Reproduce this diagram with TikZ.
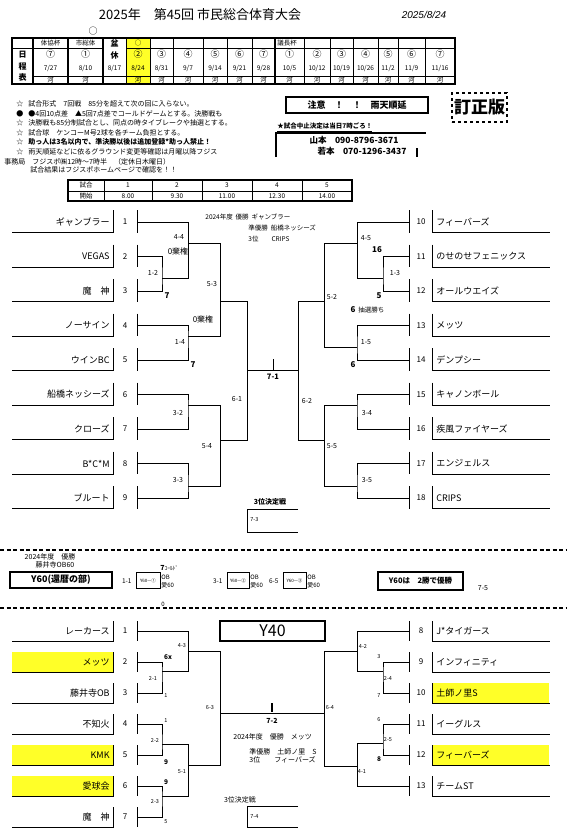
\documentclass[tikz,border=0pt]{standalone}
\usepackage{fontspec}
\setmainfont{Noto Sans CJK JP}
\newfontfamily\latinfont{Liberation Sans}
\definecolor{hl}{RGB}{255,255,40}

\begin{document}
\begin{tikzpicture}[
    x=1pt, y=-1pt, line width=0.8pt,
    frame/.style={line width=0.9pt},
    tname/.style={font=\fontsize{9}{10}\selectfont, inner sep=0pt},
    tnum/.style={font=\fontsize{8}{9}\selectfont, inner sep=0pt},
    score/.style={font=\fontsize{7}{8}\selectfont, inner sep=0pt},
    win/.style={font=\fontsize{8}{9}\selectfont\bfseries, inner sep=0pt},
    ysc/.style={font=\fontsize{5.5}{6}\selectfont, inner sep=0pt},
    note/.style={font=\fontsize{7}{8}\selectfont, inner sep=0pt, anchor=west},
    cell/.style={font=\fontsize{6.5}{7}\selectfont, inner sep=0pt},
    circ/.style={font=\fontsize{9}{10}\selectfont, inner sep=0pt},
    thickbox/.style={draw, line width=1.8pt, inner sep=0pt}
]
\useasboundingbox (0,0) rectangle (567,838);

% -------------------------
% Title
% -------------------------
\node[font=\fontsize{13}{14}\selectfont] (title) at (200,15) {2025年　第45回 市民総合体育大会};
\node[font=\latinfont\itshape\fontsize{10}{11}\selectfont] (date) at (424,15) {2025/8/24};
\node[circ] (mark) at (93,31) {○};

% -------------------------
% Schedule table
% -------------------------
\fill[hl] (126,38) rectangle (150,84);
\foreach \xa/\xb/\cn/\dt/\rv [count=\k] in {33/68/⑦/{7/27}/河, 68/103/①/{8/10}/河, 103/126/{}/{8/17}/{},
    126/150/②/{8/24}/河, 150/173/③/{8/31}/河, 173/203/④/{9/7}/河, 203/227/⑤/{9/14}/河,
    227/252/⑥/{9/21}/河, 252/275/⑦/{9/28}/河, 275/304/①/{10/5}/河, 304/330/②/{10/12}/河,
    330/353/③/{10/19}/河, 353/378/④/{10/26}/河, 378/398/⑤/{11/2}/河, 398/425/⑥/{11/9}/河,
    425/455/⑦/{11/16}/河}{
  \node[circ] (cn\k) at ({(\xa+\xb)/2},54) {\cn};
  \node[cell] (dt\k) at ({(\xa+\xb)/2},68) {\dt};
  \node[cell] (rv\k) at ({(\xa+\xb)/2},80) {\rv};
}
\node[cell] (hd1) at (50.5,43) {体協杯};
\node[cell] (hd2) at (85.5,43) {市総体};
\node[cell] (hd3) at (138,43) {○};
\node[cell, anchor=west] (hd4) at (277,43) {議長杯};
\node[win] (bon1) at (114.5,43) {盆};
\node[win] (bon2) at (114.5,55) {休};
\node[win] (sch1) at (22.5,55) {日};
\node[win] (sch2) at (22.5,66) {程};
\node[win] (sch3) at (22.5,77) {表};
\draw[line width=0.5pt] (12,48) -- (103,48) (126,48) -- (455,48) (33,76) -- (455,76);
\foreach \x in {126,150,173,203,227,252,304,330,353,378,398,425}
  \draw[line width=0.5pt] (\x,38) -- (\x,84);
\foreach \x in {33,68,103,275}
  \draw[line width=1.4pt] (\x,38) -- (\x,84);
\draw[line width=1.8pt] (12,38) rectangle (455,84);

% -------------------------
% Notes
% -------------------------
\node[note] (s1) at (16,104) {☆};
\node[note] (s2) at (16,114) {●};
\node[note] (s3) at (16,123) {☆};
\node[note] (s4) at (16,133) {☆};
\node[note] (s5) at (16,142) {☆};
\node[note] (s6) at (16,152) {☆};
\node[note] (n1) at (28,104) {試合形式　7回戦　85分を超えて次の回に入らない。};
\node[note] (n2) at (28,114) {●4回10点差　▲5回7点差でコールドゲームとする。決勝戦も};
\node[note] (n3) at (28,123) {決勝戦も85分制試合とし、同点の時タイブレークや抽選とする。};
\node[note] (n4) at (28,133) {試合球　ケンコーM号2球を各チーム負担とする。};
\node[note, font=\fontsize{7}{8}\selectfont\bfseries] (n5) at (28,142) {助っ人は3名以内で、準決勝以後は追加登録*助っ人禁止！};
\node[note] (n6) at (28,152) {雨天順延などに依るグラウンド変更等確認は月曜以降フジス};
\node[note] (n7) at (4,162) {事務局　フジスポ㈱12時～7時半　（定休日木曜日）};
\node[note] (n8) at (30,170) {試合結果はフジスポホームページで確認を！！};

\node[thickbox, minimum width=142pt, minimum height=16pt, font=\fontsize{9}{10}\selectfont\bfseries] (rain) at (357,105) {注意　！　！　雨天順延};
\node[draw, dashed, line width=1.6pt, minimum width=55pt, minimum height=29pt, inner sep=0pt,
      font=\fontsize{17}{18}\selectfont\bfseries] (rev) at (479.5,107.5) {訂正版};
\node[font=\fontsize{6.5}{7}\selectfont\bfseries, inner sep=0pt, anchor=south west] (stop) at (277,132) {\underline{★試合中止決定は当日7時ごろ！}};
\draw[line width=1.8pt] (276,157) -- (276,133) -- (426,133);
\draw[line width=1.8pt] (417,148) -- (417,157);
\node[font=\fontsize{8.5}{9}\selectfont\bfseries, inner sep=0pt] (tel1) at (354,140) {山本　090-8796-3671};
\node[font=\fontsize{8.5}{9}\selectfont\bfseries, inner sep=0pt] (tel2) at (362,151) {若本　070-1296-3437};

% -------------------------
% Start times
% -------------------------
\draw[line width=1.6pt] (68,180) rectangle (352,201);
\draw[line width=0.5pt] (68,191) -- (352,191);
\foreach \x in {104,152,202,252,302}
  \draw[line width=0.5pt] (\x,180) -- (\x,201);
\node[cell] (g0) at (86,185.5) {試合};
\node[cell] (t0) at (86,196) {開始};
\foreach \xc/\t [count=\k] in {128/8.00, 177/9.30, 227/11.00, 277/12.30, 327/14.00}{
  \node[cell] (g\k) at (\xc,185.5) {\k};
  \node[cell] (t\k) at (\xc,196) {\t};
}

% -------------------------
% Main tournament: teams
% -------------------------
\foreach \name [count=\i] in {ギャンブラー,VEGAS,魔　神,ノーサイン,ウインBC,船橋ネッシーズ,クローズ,B*C*M,ブルート}{
  \pgfmathsetmacro{\cy}{222+(\i-1)*34.5}
  \draw[frame] (113,\cy-12) -- (113,\cy+10.5) -- (12,\cy+10.5);
  \draw[frame] (137,\cy-12) -- (137,\cy+10.5);
  \node[tname, anchor=east] (tl\i) at (110,\cy) {\name};
  \node[tnum] (nl\i) at (125,\cy) {\i};
  \coordinate (a\i) at (137,\cy);
}
\foreach \name [count=\i from 10] in {フィーバーズ,のせのせフェニックス,オールウエイズ,メッツ,デンプシー,キャノンボール,疾風ファイヤーズ,エンジェルス,CRIPS}{
  \pgfmathsetmacro{\cy}{222+(\i-10)*34.5}
  \draw[frame] (432,\cy-12) -- (432,\cy+10.5) -- (550,\cy+10.5);
  \draw[frame] (409,\cy-12) -- (409,\cy+10.5);
  \node[tname, anchor=west] (tr\i) at (436,\cy) {\name};
  \node[tnum] (nr\i) at (421,\cy) {\i};
  \coordinate (b\i) at (409,\cy);
}

% -------------------------
% Main tournament: bracket
% -------------------------
\draw (a2) -| (162,278) |- (a3);
\draw (a1) -| (188,278) -- (162,278);
\draw (a4) -| (188,336) |- (a5);
\draw (188,243) -| (220,336) -- (188,336);
\draw (a6) -| (188,405) |- (a7);
\draw (a8) -| (188,486) |- (a9);
\draw (188,405) -| (220,486) -- (188,486);
\draw (220,301) -| (247,440) -- (220,440);

\draw (b11) -| (383,278) |- (b12);
\draw (b10) -| (357,278) -- (383,278);
\draw (b13) -| (357,347) |- (b14);
\draw (357,243) -| (324,347) -- (357,347);
\draw (b15) -| (357,405) |- (b16);
\draw (b17) -| (357,486) |- (b18);
\draw (357,405) -| (324,486) -- (357,486);
\draw (324,301) -| (298,440) -- (324,440);

% final
\draw (247,370) -- (298,370);
\draw (273,359) -- (273,370);
\node[score, font=\fontsize{7.5}{8}\selectfont\bfseries] (fin) at (273,377) {7-1};

% scores
\foreach \x/\y/\t [count=\k] in {179/237/4-4, 153/273/1-2, 212/284/5-3, 180/342/1-4, 178/413/3-2,
    207/446/5-4, 237/399/6-1, 178/480/3-3, 366/238/4-5, 395/273/1-3, 332/297/5-2, 366/342/1-5,
    307/401/6-2, 367/413/3-4, 332/446/5-5, 367/480/3-5}
  \node[score] (sc\k) at (\x,\y) {\t};
\node[score, font=\fontsize{8}{9}\selectfont] (fw1) at (178,251) {0棄権};
\node[score, font=\fontsize{8}{9}\selectfont] (fw2) at (203,319) {0棄権};
\foreach \x/\y/\t [count=\k] in {167/296/7, 193/365/7, 377/250/16, 379/296/5, 353/310/6, 353/365/6}
  \node[win] (w\k) at (\x,\y) {\t};
\node[ysc, font=\fontsize{6.5}{7}\selectfont, anchor=west] (lot) at (358,310) {抽選勝ち};

% last year's result
\node[score, font=\fontsize{6.5}{7}\selectfont, anchor=west] (prev1) at (205,217) {2024年度 \ 優勝 \ ギャンブラー};
\node[score, font=\fontsize{6.5}{7}\selectfont, anchor=west] (prev2) at (248,228) {準優勝 \ 船橋ネッシーズ};
\node[score, font=\fontsize{6.5}{7}\selectfont, anchor=west] (prev3) at (248,239) {3位　　CRIPS};

% third place
\node[score, font=\fontsize{7}{8}\selectfont\bfseries] (third) at (270,502) {3位決定戦};
\draw (298,509) -- (247,509) -- (247,532) -- (298,532);
\node[ysc, anchor=west] (thirdsc) at (250,520) {7-3};

% -------------------------
% Y60 section
% -------------------------
\draw[line width=1.3pt, dash pattern=on 4pt off 2.5pt] (0,550) -- (567,550);
\draw[line width=1.3pt, dash pattern=on 4pt off 2.5pt] (0,608) -- (567,608);
\node[score] (y60p1) at (50,557) {2024年度　優勝};
\node[score] (y60p2) at (55,565) {藤井寺OB60};
\node[thickbox, minimum width=102pt, minimum height=16pt, font=\fontsize{9}{10}\selectfont\bfseries] (y60) at (61,580) {Y60(還暦の部)};
\node[thickbox, minimum width=85pt, minimum height=18pt, font=\fontsize{7.5}{8}\selectfont\bfseries] (y60rule) at (420.5,581) {Y60は　2勝で優勝};
\foreach \xa/\xb/\ob/\t/\nm [count=\k] in {136/160/161/1-1/①, 227/249/250/3-1/②, 283/306/307/6-5/③}{
  \node[draw, line width=0.6pt, minimum width=\xb-\xa, minimum height=16pt, inner sep=0pt,
        font=\fontsize{4.5}{5}\selectfont] (yb\k) at ({(\xa+\xb)/2},580.5) {Y60—\nm};
  \node[ysc, font=\fontsize{6.5}{7}\selectfont, anchor=east] (ys\k) at (\xa-4,581) {\t};
  \node[ysc, font=\fontsize{6}{7}\selectfont, anchor=west] (yo\k) at (\ob,577) {OB};
  \node[ysc, font=\fontsize{6}{7}\selectfont, anchor=west] (ya\k) at (\ob,585) {愛60};
}
\node[ysc, anchor=west] (cold) at (160,568) {{\fontsize{7}{8}\selectfont\bfseries 7}ｺｰﾙﾄﾞ};
\node[ysc, font=\fontsize{6}{7}\selectfont, anchor=west] (zero) at (161,604) {0};
\node[score] (y60sc) at (483,588) {7-5};

% -------------------------
% Y40 section: teams
% -------------------------
\node[thickbox, minimum width=105pt, minimum height=20pt, font=\fontsize{16}{17}\selectfont] (y40) at (272.5,631) {Y40};
\foreach \name/\yl [count=\i] in {レーカース/0,メッツ/1,藤井寺OB/0,不知火/0,KMK/1,愛球会/1,魔　神/0}{
  \pgfmathsetmacro{\cy}{631+(\i-1)*31}
  \ifnum\yl=1 \fill[hl] (12,\cy-10) rectangle (113,\cy+10); \fi
  \draw[frame] (113,\cy-10) -- (113,\cy+10) -- (12,\cy+10);
  \draw[frame] (137,\cy-10) -- (137,\cy+10);
  \node[tname, anchor=east] (ul\i) at (110,\cy) {\name};
  \node[tnum] (ml\i) at (125,\cy) {\i};
  \coordinate (c\i) at (137,\cy);
}
\foreach \name/\yl [count=\i from 8] in {J*タイガース/0,インフィニティ/0,土師ノ里S/1,イーグルス/0,フィーバーズ/1,チームST/0}{
  \pgfmathsetmacro{\cy}{631+(\i-8)*31}
  \ifnum\yl=1 \fill[hl] (432,\cy-10) rectangle (549,\cy+10); \fi
  \draw[frame] (432,\cy-10) -- (432,\cy+10) -- (550,\cy+10);
  \draw[frame] (409,\cy-10) -- (409,\cy+10);
  \node[tname, anchor=west] (ur\i) at (436,\cy) {\name};
  \node[tnum] (mr\i) at (421,\cy) {\i};
  \coordinate (d\i) at (409,\cy);
}

% -------------------------
% Y40 section: bracket
% -------------------------
\draw (c2) -| (162,671) |- (c3);
\draw (c1) -| (188,671) -- (162,671);
\draw (c4) -| (162,744) |- (c5);
\draw (c6) -| (162,796) |- (c7);
\draw (162,744) -| (188,796) -- (162,796);
\draw (188,651) -| (220,765) -- (188,765);

\draw (d9) -| (383,671) |- (d10);
\draw (d8) -| (357,671) -- (383,671);
\draw (d11) -| (383,743) |- (d12);
\draw (383,743) -- (357,743) |- (d13);
\draw (357,651) -| (324,766) -- (357,766);

\draw (220,713) -- (324,713);
\draw[line width=1.6pt] (272,703) -- (272,712);
\node[score, font=\fontsize{7}{8}\selectfont\bfseries] (yfin) at (272,721) {7-2};

\foreach \x/\y/\t [count=\k] in {182/646/4-3, 153/678/2-1, 166/696/1, 210/708/6-3, 166/721/1, 155/740/2-2,
    182/772/5-1, 155/802/2-3, 166/822/5, 363/646/4-2, 379/657/3, 388/678/2-4, 379/696/7, 330/708/6-4,
    379/720/6, 388/740/2-5, 362/772/4-1}
  \node[ysc] (ys\k) at (\x,\y) {\t};
\foreach \x/\y/\t [count=\k] in {168/657/6x, 166/762/9, 166/782/9, 379/759/8}
  \node[ysc, font=\fontsize{6.5}{7}\selectfont\bfseries] (yw\k) at (\x,\y) {\t};

\node[score, anchor=west] (yprev1) at (233,737) {2024年度　優勝　メッツ};
\node[score, anchor=west] (yprev2) at (249,752) {準優勝　土師ノ里　S};
\node[score, anchor=west] (yprev3) at (249,760) {3位　　フィーバーズ};

\node[score, font=\fontsize{7}{8}\selectfont] (ythird) at (240,800) {3位決定戦};
\draw (298,806) -- (247,806) -- (247,827) -- (298,827);
\node[ysc, anchor=west] (ythirdsc) at (250,817) {7-4};

\end{tikzpicture}
\end{document}
